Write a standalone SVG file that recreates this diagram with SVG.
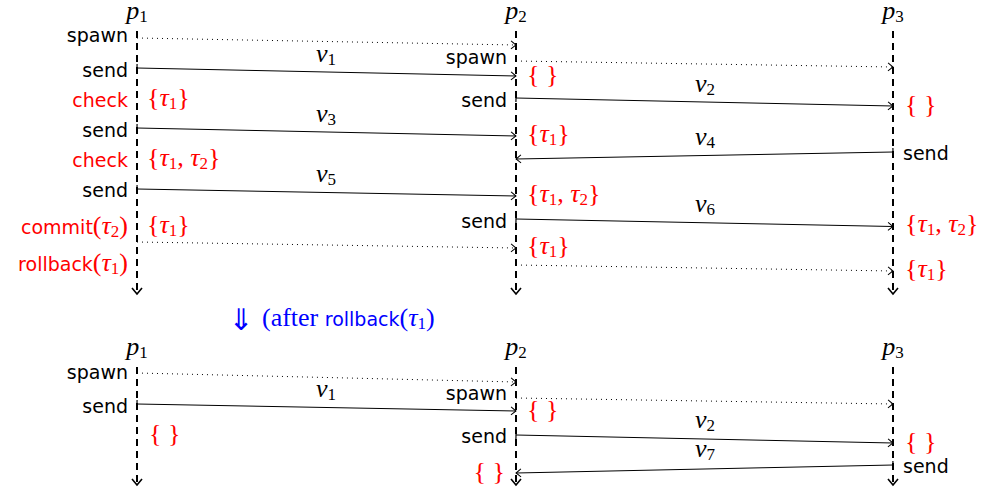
<svg xmlns="http://www.w3.org/2000/svg" width="985" height="492" viewBox="0 0 985 492">
<style>
.ll{stroke:#000;stroke-width:2;stroke-dasharray:7 5;fill:none}
.lh{stroke:#000;stroke-width:1.6;fill:none}
.msg{stroke:#000;stroke-width:1;fill:none;marker-end:url(#ah)}
.snd{marker-start:url(#tk)}
.dot{stroke:#000;stroke-width:1;stroke-dasharray:1 4;fill:none;marker-end:url(#ah)}
.sans{font-family:"DejaVu Sans",sans-serif;font-size:19px}
.m{font-family:"Liberation Serif","DejaVu Serif",serif;font-size:26px}
.it{font-style:italic}
.sb{font-size:17px;font-style:normal}
.red{fill:#f00}
.blue{fill:#00f}
.end{text-anchor:end}
.mid{text-anchor:middle}
</style>
<defs>
<marker id="ah" markerUnits="userSpaceOnUse" markerWidth="12" markerHeight="12" refX="0" refY="0" viewBox="-8 -6 10 12" orient="auto" overflow="visible">
<path d="M-5,-4 L0,0 L-5,4" stroke="#000" stroke-width="1" fill="none"/>
</marker>
<marker id="tk" markerUnits="userSpaceOnUse" markerWidth="4" markerHeight="12" refX="0" refY="0" viewBox="-2 -6 4 12" orient="auto" overflow="visible">
<path d="M0,-4 V4" stroke="#000" stroke-width="1.2" fill="none"/>
</marker>
</defs>

<g id="lifelines">
<path class="ll" d="M137,31 V293 M516,31 V293 M893,31 V293"/>
<path class="lh" d="M132,288 L137,294 L142,288 M511,288 L516,294 L521,288 M888,288 L893,294 L898,288"/>
<path class="ll" d="M137,367 V484 M516,367 V484 M893,367 V484"/>
<path class="lh" d="M132,479 L137,485 L142,479 M511,479 L516,485 L521,479 M888,479 L893,485 L898,479"/>
</g>

<g id="connectors">
<path class="dot" d="M137,38 L516,45"/>
<path class="dot" d="M516,61 L893,67"/>
<path class="msg snd" d="M137,68 L516,76"/>
<path class="msg snd" d="M516,98 L893,106"/>
<path class="msg snd" d="M137,128 L516,136"/>
<path class="msg snd" d="M893,152 L516,159"/>
<path class="msg snd" d="M137,189 L516,196"/>
<path class="msg snd" d="M516,219 L893,226.5"/>
<path class="dot" d="M137,242 L516,248"/>
<path class="dot" d="M516,265 L893,271"/>
<path class="dot" d="M137,373 L516,382"/>
<path class="msg snd" d="M137,404 L516,411"/>
<path class="dot" d="M516,398 L893,404"/>
<path class="msg snd" d="M516,435 L893,443"/>
<path class="msg snd" d="M893,465 L516,473"/>
</g>

<g id="msg-labels" class="m it mid">
<text x="326" y="62">v<tspan class="sb" dy="3">1</tspan></text>
<text x="705" y="92">v<tspan class="sb" dy="3">2</tspan></text>
<text x="326" y="122">v<tspan class="sb" dy="3">3</tspan></text>
<text x="705" y="145">v<tspan class="sb" dy="3">4</tspan></text>
<text x="326" y="182">v<tspan class="sb" dy="3">5</tspan></text>
<text x="705" y="212">v<tspan class="sb" dy="3">6</tspan></text>
<text x="326" y="397">v<tspan class="sb" dy="3">1</tspan></text>
<text x="705" y="428">v<tspan class="sb" dy="3">2</tspan></text>
<text x="705" y="457">v<tspan class="sb" dy="3">7</tspan></text>
</g>

<g id="p1-top">
<text class="m it mid" x="137" y="19">p<tspan class="sb" dy="3">1</tspan></text>
<text class="sans end" x="128" y="42">spawn</text>
<text class="sans end" x="128" y="77">send</text>
<text class="sans end red" x="128" y="107">check</text>
<text class="sans end" x="128" y="137">send</text>
<text class="sans end red" x="128" y="167">check</text>
<text class="sans end" x="128" y="197">send</text>
<text class="sans end red" x="128" y="234">commit<tspan class="m">(<tspan class="it">τ</tspan><tspan class="sb" dy="3">2</tspan><tspan dy="-3">)</tspan></tspan></text>
<text class="sans end red" x="128" y="271">rollback<tspan class="m">(<tspan class="it">τ</tspan><tspan class="sb" dy="3">1</tspan><tspan dy="-3">)</tspan></tspan></text>
<text class="m red" x="147" y="106">{<tspan class="it">τ</tspan><tspan class="sb" dy="3">1</tspan><tspan dy="-3">}</tspan></text>
<text class="m red" x="147" y="166">{<tspan class="it">τ</tspan><tspan class="sb" dy="3">1</tspan><tspan dy="-3">, </tspan><tspan class="it">τ</tspan><tspan class="sb" dy="3">2</tspan><tspan dy="-3">}</tspan></text>
<text class="m red" x="147" y="233">{<tspan class="it">τ</tspan><tspan class="sb" dy="3">1</tspan><tspan dy="-3">}</tspan></text>
</g>

<g id="p2-top">
<text class="m it mid" x="516" y="19">p<tspan class="sb" dy="3">2</tspan></text>
<text class="sans end" x="507" y="64">spawn</text>
<text class="m red" x="527" y="83">{ }</text>
<text class="sans end" x="507" y="107">send</text>
<text class="m red" x="527" y="142">{<tspan class="it">τ</tspan><tspan class="sb" dy="3">1</tspan><tspan dy="-3">}</tspan></text>
<text class="m red" x="527" y="202">{<tspan class="it">τ</tspan><tspan class="sb" dy="3">1</tspan><tspan dy="-3">, </tspan><tspan class="it">τ</tspan><tspan class="sb" dy="3">2</tspan><tspan dy="-3">}</tspan></text>
<text class="sans end" x="507" y="228">send</text>
<text class="m red" x="527" y="254">{<tspan class="it">τ</tspan><tspan class="sb" dy="3">1</tspan><tspan dy="-3">}</tspan></text>
</g>

<g id="p3-top">
<text class="m it mid" x="893" y="19">p<tspan class="sb" dy="3">3</tspan></text>
<text class="m red" x="905" y="113">{ }</text>
<text class="sans" x="903" y="160">send</text>
<text class="m red" x="905" y="232">{<tspan class="it">τ</tspan><tspan class="sb" dy="3">1</tspan><tspan dy="-3">, </tspan><tspan class="it">τ</tspan><tspan class="sb" dy="3">2</tspan><tspan dy="-3">}</tspan></text>
<text class="m red" x="905" y="277">{<tspan class="it">τ</tspan><tspan class="sb" dy="3">1</tspan><tspan dy="-3">}</tspan></text>
</g>

<g id="transition">
<text class="blue" x="241" y="330" text-anchor="middle" font-family="DejaVu Sans, sans-serif" font-size="30">⇓</text>
<text class="m blue" x="262" y="326">(after <tspan class="sans">rollback</tspan>(<tspan class="it">τ</tspan><tspan class="sb" dy="3">1</tspan><tspan dy="-3">)</tspan></text>
</g>

<g id="p1-bottom">
<text class="m it mid" x="137" y="355">p<tspan class="sb" dy="3">1</tspan></text>
<text class="sans end" x="128" y="379">spawn</text>
<text class="sans end" x="128" y="413">send</text>
<text class="m red" x="149" y="442">{ }</text>
</g>

<g id="p2-bottom">
<text class="m it mid" x="516" y="355">p<tspan class="sb" dy="3">2</tspan></text>
<text class="sans end" x="507" y="400">spawn</text>
<text class="m red" x="527" y="418">{ }</text>
<text class="sans end" x="507" y="443">send</text>
<text class="m red end" x="505" y="480">{ }</text>
</g>

<g id="p3-bottom">
<text class="m it mid" x="893" y="355">p<tspan class="sb" dy="3">3</tspan></text>
<text class="m red" x="905" y="450">{ }</text>
<text class="sans" x="903" y="473">send</text>
</g>
</svg>
